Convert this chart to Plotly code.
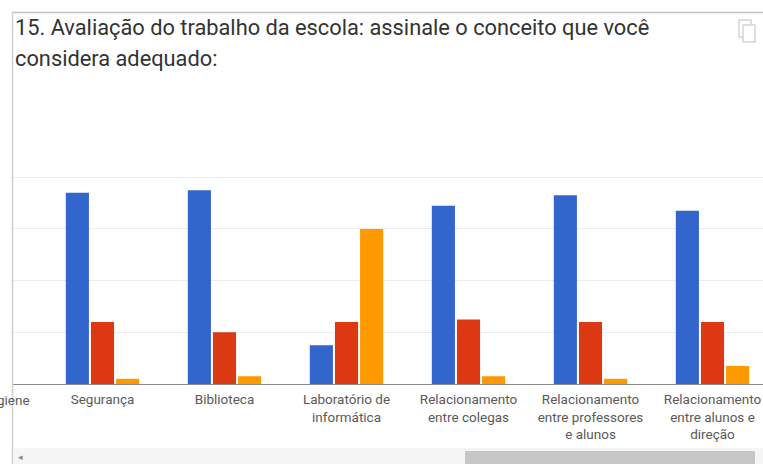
import plotly.graph_objects as go

# Respostas por item avaliado
categorias = [
    "Segurança",
    "Biblioteca",
    "Laboratório de informática",
    "Relacionamento entre colegas",
    "Relacionamento entre professores e alunos",
    "Relacionamento entre alunos e direção",
]
rotulos = [
    "Segurança",
    "Biblioteca",
    "Laboratório de<br>informática",
    "Relacionamento<br>entre colegas",
    "Relacionamento<br>entre professores<br>e alunos",
    "Relacionamento<br>entre alunos e<br>direção",
]
bom = [74, 75, 15, 69, 73, 67]
regular = [24, 20, 24, 25, 24, 24]
ruim = [2, 3, 60, 3, 2, 7]
rotulo_anterior = "Higiene"

W, H = 763, 464
ML, MT, MB = 13, 140, 80
PW, PH = W - ML, H - MT - MB


def fx(px):
    return (px - ML) / PW


def fy(py):
    return (H - MB - py) / PH


fig = go.Figure()
for nome, vals, cor in [("Bom", bom, "#3366cc"),
                        ("Regular", regular, "#dc3912"),
                        ("Ruim", ruim, "#ff9900")]:
    fig.add_trace(go.Bar(x=categorias, y=vals, name=nome, marker_color=cor,
                         marker_line_width=0, showlegend=False))

fig.update_layout(
    width=W, height=H,
    margin=dict(l=ML, r=0, t=MT, b=MB, pad=0),
    paper_bgcolor="white", plot_bgcolor="white",
    barmode="group", bargap=0.382, bargroupgap=0.08,
    font=dict(family="Roboto, Arial, sans-serif", color="#555"),
)
fig.update_xaxes(
    type="category", categoryarray=categorias,
    tickvals=categorias, ticktext=rotulos,
    range=[-0.7336, 5.4139], showgrid=False, ticks="",
    tickfont=dict(size=13.5, color="#5a5a5a"),
    showline=True, linecolor="#8a8a8a", linewidth=1,
    automargin=False, ticklabelstandoff=3,
)
fig.update_yaxes(
    range=[0, PH / 2.585], dtick=20, showticklabels=False,
    gridcolor="#ececec", zeroline=False, automargin=False,
)

# Cartão: bordas superior e esquerda
fig.add_shape(type="line", xref="paper", yref="paper",
              x0=fx(12), x1=fx(W), y0=fy(12.5), y1=fy(12.5),
              line=dict(color="#c4c4c4", width=1.5))
fig.add_shape(type="line", xref="paper", yref="paper",
              x0=fx(12.5), x1=fx(12.5), y0=fy(12), y1=fy(H),
              line=dict(color="#cfcfcf", width=1.5))

# Título da pergunta
fonte_titulo = dict(size=21.8, color="#333", family="Roboto, Arial, sans-serif")
fig.add_annotation(xref="paper", yref="paper", x=fx(13), y=fy(28),
                   xanchor="left", yanchor="middle", showarrow=False,
                   text="15. Avaliação do trabalho da escola: assinale o conceito que você",
                   font=fonte_titulo)
fig.add_annotation(xref="paper", yref="paper", x=fx(13), y=fy(59),
                   xanchor="left", yanchor="middle", showarrow=False,
                   text="considera adequado:", font=fonte_titulo)

# Ícone de copiar
fig.add_shape(type="rect", xref="paper", yref="paper",
              x0=fx(739), x1=fx(751), y0=fy(20), y1=fy(37),
              line=dict(color="#d4d4d4", width=1.5), fillcolor="white")
fig.add_shape(type="rect", xref="paper", yref="paper",
              x0=fx(743), x1=fx(755), y0=fy(25), y1=fy(42),
              line=dict(color="#d4d4d4", width=1.5), fillcolor="white")

# Rótulo da categoria anterior, parcialmente visível
fig.add_annotation(xref="paper", yref="paper", x=fx(32), y=fy(400),
                   xanchor="right", yanchor="middle", showarrow=False,
                   text=rotulo_anterior, font=dict(size=13.5, color="#5a5a5a"))

# Barra de rolagem horizontal
fig.add_shape(type="rect", xref="paper", yref="paper",
              x0=fx(13), x1=fx(W), y0=fy(448), y1=fy(H),
              line_width=0, fillcolor="#f5f5f5")
fig.add_shape(type="rect", xref="paper", yref="paper",
              x0=fx(465), x1=fx(755), y0=fy(451), y1=fy(H),
              line_width=0, fillcolor="#c6c6c6")
fig.add_annotation(xref="paper", yref="paper", x=fx(20), y=fy(457),
                   xanchor="center", yanchor="middle", showarrow=False,
                   text="◂", font=dict(size=9, color="#888"))

fig.write_html("out.html", config={"displayModeBar": False})
